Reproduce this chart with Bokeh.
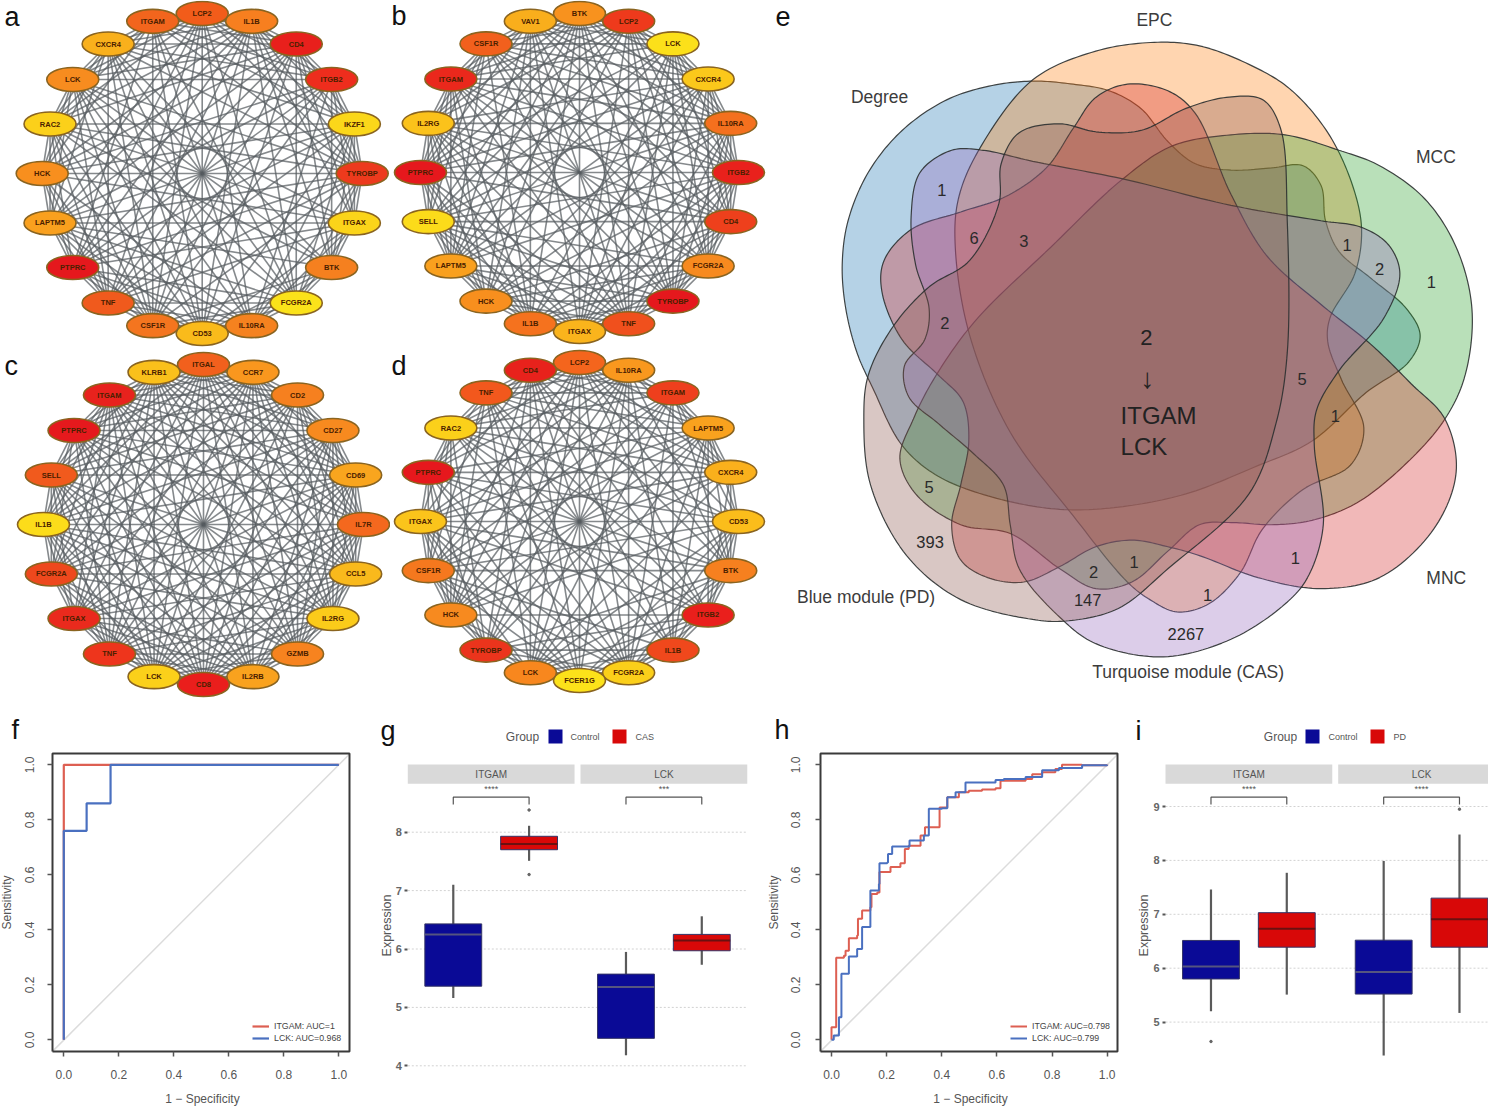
import math
from bokeh.plotting import figure
from bokeh.layouts import column, row
from bokeh.models import Range1d, FixedTicker, NumeralTickFormatter, Legend, LegendItem
from bokeh.core.properties import value
from bokeh.embed import file_html
from bokeh.resources import INLINE

FONT = "Liberation Sans"

# ---------- networks ----------
genes_a = ["LCP2","IL1B","CD4","ITGB2","IKZF1","TYROBP","ITGAX","BTK","FCGR2A","IL10RA","CD53","CSF1R","TNF","PTPRC","LAPTM5","HCK","RAC2","LCK","CXCR4","ITGAM"]
colors_a = ["#f25c1a","#f77f1f","#e8201c","#ee2d1d","#fbd71a","#ed3a1d","#fbd41a","#f5801f","#fbe21a","#f5821f","#fabb1b","#f4751f","#f05a1d","#e5181d","#f9a01e","#f88f1e","#fbd01a","#f78c1f","#f9b01c","#f2651d"]
missing_a = [(6,18),(7,19),(6,19),(8,15),(7,15),(12,19),(7,12),(7,13),(6,11),(10,15),(9,16),(0,6),(0,7),(3,10),(13,17),(13,18),(0,15),(5,10),(2,9),(1,9),(4,11),(14,19),(3,8),(3,16),(4,17)]

genes_b = ["BTK","LCP2","LCK","CXCR4","IL10RA","ITGB2","CD4","FCGR2A","TYROBP","TNF","ITGAX","IL1B","HCK","LAPTM5","SELL","PTPRC","IL2RG","ITGAM","CSF1R","VAV1"]
colors_b = ["#f8921e","#ee3a1c","#fce01a","#fbc81b","#f4701e","#e9211c","#ee401c","#f78a1f","#e5181d","#f0501d","#fab41c","#f5721e","#f88f1e","#f9a01e","#fcdb1a","#e6181d","#fbc21b","#ea281c","#f2601d","#f9ae1c"]
missing_b = [(1,11),(2,12),(10,17),(10,18),(7,19),(0,6),(7,15),(8,15),(3,9),(4,11),(14,19),(6,13),(2,16),(12,18)]

genes_c = ["ITGAL","CCR7","CD2","CD27","CD69","IL7R","CCL5","IL2RG","GZMB","IL2RB","CD8","LCK","TNF","ITGAX","FCGR2A","IL1B","SELL","PTPRC","ITGAM","KLRB1"]
colors_c = ["#f2601d","#f9971e","#f6801f","#f78a1f","#f9a51e","#f4681e","#f9b91c","#fbcb1a","#f7831f","#f9a21e","#ea1e1c","#fbd01a","#ee351c","#ea2a1d","#ee481d","#fcdc1a","#f15a1d","#e5191d","#e8221d","#fac01b"]
missing_c = [(2,9),(13,17),(5,16),(8,14)]

genes_d = ["LCP2","IL10RA","ITGAM","LAPTM5","CXCR4","CD53","BTK","ITGB2","IL1B","FCGR2A","FCER1G","LCK","TYROBP","HCK","CSF1R","ITGAX","PTPRC","RAC2","TNF","CD4"]
colors_d = ["#f4651d","#f9981e","#ee3f1d","#f9a21e","#fab01c","#fbbd1b","#f6801f","#ea1f1c","#f0481c","#fbcf1a","#fce21a","#f8871e","#eb341c","#f78a1f","#f5781e","#fbc41b","#e6181d","#fbd01a","#f2581d","#e8221c"]
missing_d = [(2,10),(4,8),(5,12),(4,12),(8,15),(8,16),(14,19),(15,18),(5,19),(6,18),(1,7),(0,8),(8,13),(9,13),(4,9),(4,10),(11,16),(11,17),(3,10),(6,13),(7,14),(12,18),(2,7),(10,17),(0,15),(2,16),(1,5)]

# ---------- venn outlines (traced) ----------
degree_outline = [(560,183),(650,190),(730,205),(800,245),(860,320),(920,370),(1000,385),(1090,380),(1160,375),(1200,420),(1210,500),(1240,570),(1310,630),(1390,700),(1420,760),(1395,820),(1300,890),(1180,1000),(1050,1060),(900,1120),(750,1150),(620,1155),(480,1130),(350,1080),(270,1010),(205,880),(170,800),(145,700),(137,600),(150,500),(195,390),(270,295),(370,225),(470,193)]
epc_outline = [(830,95),(930,103),(1040,145),(1130,200),(1215,300),(1270,420),(1290,520),(1275,620),(1220,720),(1215,775),(1245,860),(1295,970),(1265,1055),(1160,1110),(1070,1200),(1020,1300),(950,1370),(880,1388),(820,1360),(770,1320),(650,1170),(510,980),(420,760),(388,560),(395,450),(440,340),(560,180),(700,115)]
mcc_outline = [(1240,340),(1330,375),(1430,450),(1500,560),(1535,700),(1520,850),(1475,950),(1390,1050),(1280,1140),(1180,1180),(1090,1190),(1000,1185),(930,1190),(860,1250),(780,1320),(700,1335),(620,1290),(510,1210),(400,1190),(300,1120),(265,1040),(295,950),(340,860),(430,730),(600,560),(760,405),(870,330),(1000,305),(1120,305)]
mnc_outline = [(1475,950),(1500,1070),(1450,1200),(1330,1310),(1200,1335),(1060,1310),(930,1260),(860,1240),(780,1225),(700,1240),(620,1285),(540,1320),(460,1310),(400,1270),(380,1190),(400,1100),(418,1000),(405,910),(350,850),(270,770),(225,660),(230,590),(290,520),(400,480),(500,445),(590,380),(650,290),(700,220),(770,190),(860,205),(920,255),(1000,440),(1080,580),(1200,690),(1310,780),(1400,870)]
cas_outline = [(290,490),(310,390),(380,340),(450,340),(560,365),(760,405),(1000,465),(1200,500),(1290,515),(1350,555),(1375,620),(1340,720),(1240,840),(1190,930),(1185,1010),(1205,1190),(1170,1310),(1120,1370),(1000,1450),(850,1490),(700,1460),(620,1400),(530,1290),(510,1190),(495,1100),(430,1030),(350,960),(285,900),(275,830),(320,770),(330,700),(300,600)]
pd_outline = [(185,950),(200,1100),(280,1260),(400,1360),(560,1405),(640,1408),(750,1380),(860,1290),(1040,1120),(1100,960),(1125,800),(1125,500),(1110,290),(1070,225),(990,220),(900,245),(800,295),(700,298),(620,280),(530,300),(490,370),(485,460),(420,590),(330,650),(250,740),(195,850)]
venn_colors = ["#1f77b4","#ff7f0e","#2ca02c","#d62728","#9467bd","#8c564b"]
venn_names = ["Degree","EPC","MCC","MNC","Turquoise module (CAS)","Blue module (PD)"]
venn_name_pos = [(220,218),(830,45),(1455,355),(1478,1310),(905,1525),(190,1355)]
venn_counts = ["1","6","3","2","1","2","1","5","1","5","393","2","1","1","147","1","2267"]
venn_count_pos = [(358,430),(430,538),(540,547),(365,733),(1258,556),(1330,610),(1445,640),(1158,860),(1232,943),(330,1105),(332,1230),(695,1297),(785,1275),(1143,1265),(682,1360),(948,1350),(900,1437)]

# ---------- ROC ----------
f_itgam_x = [0,0,1]
f_itgam_y = [0,1,1]
f_lck_x = [0,0,0.083,0.083,0.17,0.17,1]
f_lck_y = [0,0.76,0.76,0.86,0.86,1,1]
h_itgam_x = [0,0,.017,.017,.045,.051,.063,.063,.093,.096,.111,.141,.145,.166,.174,.214,.250,.266,.280,.323,.339,.392,.392,.420,.462,.498,.546,.595,.613,.704,.728,.764,.812,.836,.908,1.0]
h_itgam_y = [0,.046,.046,.298,.306,.324,.330,.369,.379,.440,.470,.482,.530,.536,.610,.628,.642,.694,.706,.743,.773,.773,.845,.882,.900,.906,.910,.915,.942,.948,.966,.973,.985,1.0,.998,1.0]
h_lck_x = [0,.008,.027,.036,.063,.063,.093,.111,.111,.141,.141,.172,.174,.202,.205,.220,.262,.283,.335,.353,.401,.420,.450,.486,.595,.625,.704,.764,.825,.909,1]
h_lck_y = [0,.016,.082,.240,.240,.303,.330,.349,.410,.452,.543,.567,.642,.645,.676,.703,.703,.725,.743,.840,.842,.882,.900,.936,.945,.948,.956,.980,.988,.998,1]

# ---------- box plots: ITGAM ctrl, ITGAM case, LCK ctrl, LCK case ----------
g_low = [5.16,7.51,4.18,5.73]
g_q1 = [5.363,7.70,4.47,5.97]
g_med = [6.25,7.80,5.35,6.145]
g_q3 = [6.43,7.93,5.57,6.25]
g_high = [7.10,8.11,5.95,6.56]
g_out_pos = [1,1]
g_out_val = [8.38,7.275]
i_low = [5.20,5.51,4.38,5.17]
i_q1 = [5.80,6.39,5.52,6.39]
i_med = [6.03,6.73,5.93,6.91]
i_q3 = [6.515,7.03,6.52,7.30]
i_high = [7.46,7.77,7.99,8.48]
i_out_pos = [0,3]
i_out_val = [4.64,8.95]
facets = ["ITGAM","LCK"]
expr_ticks = [4,5,6,7,8]
expr_ticks_i = [5,6,7,8,9]

TEXT_SHIFT = 11  # page px between the wanted baseline and the y handed to an "alphabetic" text


def base(width, height, x_range, y_range, **kw):
    p = figure(width=width, height=height, x_range=x_range, y_range=y_range,
               output_backend="svg", toolbar_location=None, margin=0, frame_align=False, **kw)
    p.background_fill_color = "white"
    p.border_fill_color = "white"
    p.outline_line_color = None
    p.grid.visible = False
    return p


def letter(p, x, y, s):
    p.text([x], [y], text=[s], text_font=value(FONT), text_font_size="27px",
           text_color="#111111", text_baseline="alphabetic", text_align="left")


def network(x0, y0, w, h, cx, cy, R, genes, colors, missing, name, letter_y):
    p = base(w, h, Range1d(x0, x0 + w), Range1d(y0 + h, y0),
             min_border=0, x_axis_type=None, y_axis_type=None)
    n = len(genes)
    xs = [cx + R * math.sin(2 * math.pi * i / n) for i in range(n)]
    ys = [cy - R * math.cos(2 * math.pi * i / n) for i in range(n)]
    miss = {tuple(sorted(m)) for m in missing}
    ex, ey = [], []
    for i in range(n):
        for j in range(i + 1, n):
            if (i, j) not in miss:
                ex.append([xs[i], xs[j]])
                ey.append([ys[i], ys[j]])
    p.multi_line(ex, ey, line_color="#565b60", line_width=1.6, line_alpha=0.72)
    p.ellipse(xs, ys, width=52, height=24, fill_color=colors,
              line_color="#8a6420", line_width=1.6)
    p.text(xs, ys, text=genes, text_font=value(FONT), text_font_size="7.5px", text_font_style="bold",
           text_color="#4a2000", text_align="center", text_baseline="middle")
    letter(p, x0 + (4 if x0 == 0 else 1), letter_y, name)
    return p


def catmull(points, steps=14):
    # centripetal Catmull-Rom through the traced outline
    n = len(points)
    xs, ys = [], []
    for i in range(n):
        P = [points[i - 1], points[i], points[(i + 1) % n], points[(i + 2) % n]]
        t = [0.0]
        for k in range(3):
            t.append(t[-1] + math.dist(P[k], P[k + 1]) ** 0.5)
        for s in range(steps):
            u = t[1] + (t[2] - t[1]) * s / steps
            def lerp(a, b, ta, tb):
                w = (u - ta) / (tb - ta)
                return (a[0] * (1 - w) + b[0] * w, a[1] * (1 - w) + b[1] * w)
            A1 = lerp(P[0], P[1], t[0], t[1])
            A2 = lerp(P[1], P[2], t[1], t[2])
            A3 = lerp(P[2], P[3], t[2], t[3])
            B1 = lerp(A1, A2, t[0], t[2])
            B2 = lerp(A2, A3, t[1], t[3])
            C = lerp(B1, B2, t[1], t[2])
            xs.append(C[0])
            ys.append(C[1])
    return xs, ys


def venn():
    sx, sy = 2.22, 2.27
    p = base(713, 700, Range1d(-5 * sx, 708 * sx), Range1d(700 * sy, 0),
             min_border=0, x_axis_type=None, y_axis_type=None)
    outlines = [degree_outline, epc_outline, mcc_outline, mnc_outline, cas_outline, pd_outline]
    for o, c in zip(outlines, venn_colors):
        xs, ys = catmull(o)
        p.patch(xs, ys, fill_color=c, fill_alpha=0.33, line_color="#2b3030", line_width=1.2, line_alpha=0.9)
    p.text([a for a, b in venn_name_pos], [b for a, b in venn_name_pos], text=venn_names,
           text_font=value(FONT), text_font_size="17.5px", text_color="#3c3c3c",
           text_align="center", text_baseline="middle")
    p.text([a for a, b in venn_count_pos], [b for a, b in venn_count_pos], text=venn_counts,
           text_font=value(FONT), text_font_size="16.5px", text_color="#2a2a2a",
           text_align="center", text_baseline="middle")
    p.text([812], [765], text=["2"], text_font=value(FONT), text_font_size="22px",
           text_color="#222222", text_align="center", text_baseline="middle")
    p.text([815], [858], text=["↓"], text_font=value(FONT), text_font_size="28px",
           text_color="#222222", text_align="center", text_baseline="middle")
    p.text([755, 755], [943, 1012], text=["ITGAM", "LCK"], text_font=value(FONT), text_font_size="24px",
           text_color="#222222", text_align="left", text_baseline="middle")
    p.text([-11], [36], text=["e"], text_font=value(FONT), text_font_size="27px", text_color="#111111",
           text_baseline="alphabetic", text_align="left")
    return p


def roc(x0, width, frame_l, frame_r, t0, tscale, series, labels, ylab_standoff, ylab_x, xlab_x,
        name, name_x, legend_x):
    px = lambda page_x: (page_x - x0 - t0) / tscale
    py = lambda page_y: (1039.3 - page_y) / 275
    xl, xr_ = (frame_l - t0) / tscale, (frame_r - t0) / tscale
    yb, yt = py(1050.9), py(752.9)
    p = figure(width=width, height=406, x_range=Range1d(px(x0), px(x0 + width)),
               y_range=Range1d(py(1106), py(700)), output_backend="svg",
               toolbar_location=None, margin=0, frame_align=False, min_border=0)
    p.background_fill_color = "white"
    p.border_fill_color = "white"
    p.grid.visible = False
    p.outline_line_color = None
    ticks = [0, 0.2, 0.4, 0.6, 0.8, 1.0]
    for ax in (p.xaxis[0], p.yaxis[0]):
        ax.ticker = FixedTicker(ticks=ticks)
        ax.formatter = NumeralTickFormatter(format="0.0")
        ax.axis_line_color = None
        ax.major_tick_line_color = "#555555"
        ax.major_tick_line_width = 1.5
        ax.major_tick_out = 5
        ax.major_tick_in = 0
        ax.minor_tick_line_color = None
        ax.major_label_text_font = FONT
        ax.major_label_text_font_size = "12px"
        ax.major_label_text_color = "#555555"
    p.xaxis[0].fixed_location = yb
    p.yaxis[0].fixed_location = xl
    p.yaxis.major_label_orientation = "vertical"
    p.xaxis.major_label_standoff = 14
    p.yaxis.major_label_standoff = ylab_standoff
    # diagonal and box of the plot
    p.line([xl, xr_], [yb, xr_ if xr_ < yt else yt], line_color="#dcdcdc", line_width=1.5)
    p.line([xl, xr_, xr_, xl, xl], [yb, yb, yt, yt, yb], line_color="#3a3a3a", line_width=2)
    items = []
    for (sx, sy), col, lab in zip(series, ["#dd5f52", "#4a70c0"], labels):
        if len(sx) > 10:
            r = p.step(sx, sy, mode="after", line_color=col, line_width=2)
        else:
            r = p.line(sx, sy, line_color=col, line_width=2.2)
        items.append(LegendItem(label=lab, renderers=[r]))
    leg = Legend(items=items, location=(legend_x, 63), background_fill_alpha=0, border_line_color=None,
                 label_text_font=FONT, label_text_font_size="8.8px", label_text_color="#444444",
                 glyph_width=17, glyph_height=10, spacing=2, label_standoff=5, margin=0, padding=2)
    p.add_layout(leg)
    p.text([px(ylab_x)], [py(902)], text=["Sensitivity"], angle=math.pi / 2, text_font=value(FONT),
           text_font_size="12px", text_color="#555555", text_align="center", text_baseline="middle")
    p.text([px(xlab_x)], [py(1098)], text=["1 − Specificity"], text_font=value(FONT),
           text_font_size="12px", text_color="#555555", text_align="center", text_baseline="middle")
    letter(p, px(name_x), py(740 - TEXT_SHIFT), name)
    return p


def boxes(fig_x0, width, frame_l, frame_r, v_ref, py_ref, pyscale, ticks, low, q1, med, q3, high,
          out_pos, out_val, case, stars, legend_px, ylab_x, name, name_x):
    ux = 75.8
    off = 172.7 / ux
    gx = lambda px: (px - frame_l) / ux + 0.4
    gy = lambda py: v_ref + (py_ref - py) / pyscale
    p = figure(width=width, height=406, x_range=Range1d(gx(fig_x0), gx(fig_x0 + width)),
               y_range=Range1d(gy(1106), gy(700)), output_backend="svg", toolbar_location=None, margin=0,
               frame_align=False, min_border=0, x_axis_type=None)
    p.background_fill_color = "white"
    p.border_fill_color = "white"
    p.outline_line_color = None
    p.grid.visible = False
    # dotted guide lines of the panels, at the axis ticks
    p.segment([gx(frame_l)] * len(ticks), ticks, [gx(frame_r)] * len(ticks), ticks,
              line_color="#d2d2d2", line_dash="2 2", line_width=1)
    ax = p.yaxis[0]
    ax.fixed_location = gx(frame_l)
    ax.ticker = FixedTicker(ticks=ticks)
    ax.axis_line_color = None
    ax.major_tick_line_color = "#555555"
    ax.major_tick_line_width = 2
    ax.major_tick_out = 3
    ax.major_tick_in = 0
    ax.minor_tick_line_color = None
    ax.major_label_text_font = FONT
    ax.major_label_text_font_size = "11px"
    ax.major_label_text_font_style = "bold"
    ax.major_label_text_color = "#666666"
    ax.major_label_standoff = 3
    p.text([gx(ylab_x)], [gy(925)], text=["Expression"], angle=math.pi / 2, text_font=value(FONT),
           text_font_size="12.5px", text_color="#555555", text_align="center", text_baseline="middle")

    pos = [1, 2, 1 + off, 2 + off]
    cols = ["#0a0a96", "#d80808", "#0a0a96", "#d80808"]
    medc = ["#55557f", "#6a1010", "#55557f", "#6a1010"]
    p.segment(pos, low, pos, high, line_color="#5a5a5a", line_width=2.2)
    left = [x - 0.375 for x in pos]
    right = [x + 0.375 for x in pos]
    p.quad(left=left, right=right, bottom=q1, top=q3, fill_color=cols, line_color="#333366", line_width=1)
    p.segment(left, med, right, med, line_color=medc, line_width=2)
    p.scatter([pos[k] for k in out_pos], out_val, size=2.5, color="#666666")
    # strips, brackets, stars
    for k, fname in enumerate(facets):
        o = k * off
        p.quad(left=[0.4 + o], right=[2.6 + o], bottom=[gy(783.3)], top=[gy(764)], fill_color="#d9d9d9", line_color=None)
        p.text([1.5 + o], [gy(773.5)], text=[fname], text_font=value(FONT), text_font_size="10px",
               text_color="#555555", text_align="center", text_baseline="middle")
        p.line([1 + o, 1 + o, 2 + o, 2 + o], [gy(804), gy(796.7), gy(796.7), gy(804)], line_color="#555555", line_width=1.2)
        p.text([1.5 + o], [gy(788.5)], text=[stars[k]], text_font=value(FONT), text_font_size="9px",
               text_color="#555555", text_align="center", text_baseline="middle")
    # legend
    gxp, s1, t1, s2, t2 = legend_px
    p.text([gx(gxp)], [gy(736)], text=["Group"], text_font=value(FONT), text_font_size="12px",
           text_color="#555555", text_align="center", text_baseline="middle")
    for s, c in ((s1, "#0a0a96"), (s2, "#d80808")):
        p.quad(left=[gx(s)], right=[gx(s + 14)], bottom=[gy(743)], top=[gy(729)], fill_color=c, line_color=None)
    p.text([gx(t1), gx(t2)], [gy(736), gy(736)], text=["Control", case], text_font=value(FONT), text_font_size="9px",
           text_color="#555555", text_align="left", text_baseline="middle")
    letter(p, gx(name_x), gy(741 - TEXT_SHIFT), name)
    return p


a = network(0, 0, 390, 348, 201.7, 173, 160, genes_a, colors_a, missing_a, "a", 16)
b = network(390, 0, 385, 348, 579, 172, 159, genes_b, colors_b, missing_b, "b", 15)
c = network(0, 348, 390, 352, 203, 524, 160, genes_c, colors_c, missing_c, "c", 365)
d = network(390, 348, 385, 352, 579, 521, 159, genes_d, colors_d, missing_d, "d", 365)
e = venn()

f = roc(0, 375, 52, 349, 63.3, 275, [(f_itgam_x, f_itgam_y), (f_lck_x, f_lck_y)],
        ["ITGAM: AUC=1", "LCK: AUC=0.968"], 13, 6, 202, "f", 11, 252)
g = boxes(375, 390, 407.3, 746.7, 8, 831.7, 58.4, expr_ticks, g_low, g_q1, g_med, g_q3, g_high,
          g_out_pos, g_out_val, "CAS", ["****", "***"], (522, 548, 570, 612, 635), 386, "g", 380)
h = roc(765, 360, 55, 352, 66, 275.7, [(h_itgam_x, h_itgam_y), (h_lck_x, h_lck_y)],
        ["ITGAM: AUC=0.798", "LCK: AUC=0.799"], 15, 773, 970, "h", 774, 245)
i = boxes(1125, 363, 1165, 1488, 9, 806, 53.9, expr_ticks_i, i_low, i_q1, i_med, i_q3, i_high,
          i_out_pos, i_out_val, "PD", ["****", "****"], (1280, 1305, 1328, 1370, 1393), 1143, "i", 1135)

top = row(column(row(a, b, spacing=0), row(c, d, spacing=0), spacing=0), e, spacing=0)
bottom = row(f, g, h, i, spacing=0)
page = column(top, bottom, spacing=0)
open("out.html", "w").write(file_html(page, INLINE))
